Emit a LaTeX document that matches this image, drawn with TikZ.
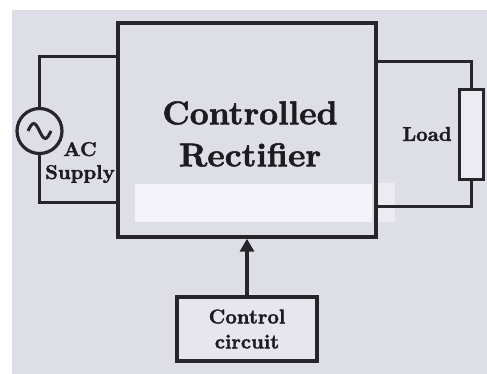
\documentclass[tikz,border=0pt]{standalone}
\usepackage{fontspec}
\newfontfamily\heavyfont{lmroman10-bold}[Extension=.otf, FakeBold=1.6]
\usetikzlibrary{arrows.meta}
\definecolor{bgc}{HTML}{DEDEE6}
\definecolor{inkc}{HTML}{26262A}
\definecolor{textc}{HTML}{1C1C20}
\definecolor{paperc}{HTML}{F4F3F9}
\definecolor{patchc}{HTML}{ECEBF2}
\tikzset{
  blockbox/.style={draw=inkc, line width=3.4pt, fill=bgc, inner sep=0pt},
  wire/.style={draw=inkc, line width=3pt},
  smalltext/.style={text=textc, font=\heavyfont\fontsize{20}{24}\selectfont, align=center, inner sep=0pt},
  bigtext/.style={text=textc, font=\heavyfont\fontsize{33}{42}\selectfont, align=center, inner sep=0pt},
  flow/.style={draw=inkc, line width=3.4pt, -{Triangle[length=13pt,width=14pt]}}
}
\begin{document}
\begin{tikzpicture}[x=1pt,y=-1pt]
\useasboundingbox (0,0) rectangle (487,374);
\fill[white] (0,0) rectangle (487,374);
\fill[bgc] (12,10) rectangle (487,374);
% main block
\node[blockbox, minimum width=258pt, minimum height=214pt] (main) at (247,130) {};
\fill[paperc] (135,184) rectangle (372,222);
\fill[patchc] (378,183) rectangle (395,222);
\node[bigtext] (title) at (250,134) {Controlled\\Rectifier};
% AC source
\node[draw=inkc, line width=3.2pt, circle, minimum size=45pt, inner sep=0pt, fill=bgc] (ac) at (39.5,131) {};
\draw[inkc, line width=3pt] ([xshift=-11.5pt]ac.center) sin ++(5.75,-7.5) cos ++(5.75,7.5) sin ++(5.75,7.5) cos ++(5.75,-7.5);
\node[smalltext, font=\heavyfont\fontsize{20}{23}\selectfont] (aclabel) at (80,162.5) {AC\\Supply};
\coordinate (acTL) at (39.5,57);
\coordinate (acBL) at (39.5,203);
\draw[wire] (main.west |- acTL) -- (acTL) -- (ac.north);
\draw[wire] (ac.south) -- (acBL) -- (main.west |- acBL);
% load
\node[blockbox, line width=3pt, fill=paperc!60!bgc, minimum width=24pt, minimum height=90pt] (load) at (471,135) {};
\node[smalltext] (loadlabel) at (427,134) {Load};
\coordinate (ldTR) at (471,62);
\coordinate (ldBR) at (471,207);
\draw[wire] (main.east |- ldTR) -- (ldTR) -- (load.north);
\draw[wire] (load.south) -- (ldBR) -- (main.east |- ldBR);
% control
\node[blockbox, fill=paperc!40!bgc, minimum width=140pt, minimum height=64pt, font=\heavyfont\fontsize{20}{25}\selectfont, text=textc, align=center] (ctrl) at (247,329) {Control\\circuit};
\draw[flow] (ctrl.north) -- (ctrl.north |- main.south);
\end{tikzpicture}
\end{document}
